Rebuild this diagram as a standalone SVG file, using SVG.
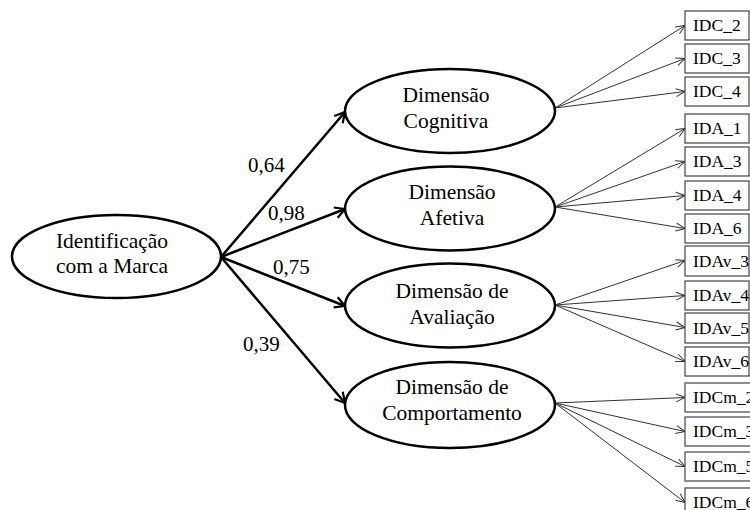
<svg xmlns="http://www.w3.org/2000/svg" width="750" height="510" viewBox="0 0 750 510">
<defs>
<marker id="hb" markerUnits="userSpaceOnUse" markerWidth="14" markerHeight="14" viewBox="0 0 14 14" refX="12" refY="7" orient="auto">
<path d="M2,1.5 L12,7 L2,12.5" fill="none" stroke="#000" stroke-width="2.2"/>
</marker>
<marker id="ht" markerUnits="userSpaceOnUse" markerWidth="12" markerHeight="12" viewBox="0 0 12 12" refX="11" refY="6" orient="auto">
<path d="M2,2 L11,6 L2,10" fill="none" stroke="#333" stroke-width="1"/>
</marker>
</defs>
<style>
.ell{fill:#fff;stroke:#000;stroke-width:2.5}
.box{fill:#fff;stroke:#444;stroke-width:1.2}
text{font-family:'Liberation Serif','Times New Roman',Times,serif;fill:#000}
.t{font-size:21.5px;text-anchor:middle}
.bt{font-size:17.5px}
.lbl{font-size:21px}
.thick{stroke:#000;stroke-width:2.5;fill:none;marker-end:url(#hb)}
.thin{stroke:#333;stroke-width:1;fill:none;marker-end:url(#ht)}
</style>
<rect width="750" height="510" fill="#fff"/>
<g id="connectors">
<line class="thick" x1="221" y1="257" x2="345" y2="112"/>
<line class="thick" x1="221" y1="257" x2="345" y2="209"/>
<line class="thick" x1="221" y1="257" x2="345" y2="306"/>
<line class="thick" x1="221" y1="257" x2="345" y2="403"/>
<line class="thin" x1="555" y1="108" x2="685" y2="25.5"/>
<line class="thin" x1="555" y1="108" x2="685" y2="58.5"/>
<line class="thin" x1="555" y1="108" x2="685" y2="91.5"/>
<line class="thin" x1="555" y1="207" x2="685" y2="128.5"/>
<line class="thin" x1="555" y1="207" x2="685" y2="161.5"/>
<line class="thin" x1="555" y1="207" x2="685" y2="195.5"/>
<line class="thin" x1="555" y1="207" x2="685" y2="228.5"/>
<line class="thin" x1="555" y1="305" x2="685" y2="260.5"/>
<line class="thin" x1="555" y1="305" x2="685" y2="295.5"/>
<line class="thin" x1="555" y1="305" x2="685" y2="327.5"/>
<line class="thin" x1="555" y1="305" x2="685" y2="361.5"/>
<line class="thin" x1="555" y1="403" x2="685" y2="397.5"/>
<line class="thin" x1="555" y1="403" x2="685" y2="431.5"/>
<line class="thin" x1="555" y1="403" x2="685" y2="466.5"/>
<line class="thin" x1="555" y1="403" x2="685" y2="502.5"/>
<text class="lbl" x="248" y="172" font-family="Liberation Serif, serif">0,64</text>
<text class="lbl" x="268" y="220" font-family="Liberation Serif, serif">0,98</text>
<text class="lbl" x="273" y="274" font-family="Liberation Serif, serif">0,75</text>
<text class="lbl" x="243" y="351" font-family="Liberation Serif, serif">0,39</text>
</g>
<g id="identificacao">
<ellipse class="ell" cx="116.5" cy="256.5" rx="104.5" ry="41.5"/>
<text class="t" x="112" y="248">Identificação</text>
<text class="t" x="112" y="273">com a Marca</text>
</g>
<g id="cognitiva">
<ellipse class="ell" cx="450" cy="111" rx="105" ry="42"/>
<text class="t" x="446" y="102">Dimensão</text>
<text class="t" x="446" y="128">Cognitiva</text>
</g>
<g id="afetiva">
<ellipse class="ell" cx="450" cy="208.5" rx="105" ry="42"/>
<text class="t" x="452" y="199">Dimensão</text>
<text class="t" x="452" y="225">Afetiva</text>
</g>
<g id="avaliacao">
<ellipse class="ell" cx="450" cy="305.5" rx="105" ry="42"/>
<text class="t" x="452" y="298">Dimensão de</text>
<text class="t" x="452" y="324">Avaliação</text>
</g>
<g id="comportamento">
<ellipse class="ell" cx="450" cy="405" rx="105" ry="43"/>
<text class="t" x="452" y="394">Dimensão de</text>
<text class="t" x="452" y="420">Comportamento</text>
</g>
<g id="IDC_2"><rect class="box" x="685" y="11" width="64" height="29"/><text class="bt" x="693" y="31">IDC_2</text></g>
<g id="IDC_3"><rect class="box" x="685" y="44" width="64" height="29"/><text class="bt" x="693" y="64">IDC_3</text></g>
<g id="IDC_4"><rect class="box" x="685" y="77" width="64" height="29"/><text class="bt" x="693" y="97">IDC_4</text></g>
<g id="IDA_1"><rect class="box" x="685" y="114" width="64" height="29"/><text class="bt" x="693" y="134">IDA_1</text></g>
<g id="IDA_3"><rect class="box" x="685" y="147" width="64" height="29"/><text class="bt" x="693" y="167">IDA_3</text></g>
<g id="IDA_4"><rect class="box" x="685" y="181" width="64" height="29"/><text class="bt" x="693" y="201">IDA_4</text></g>
<g id="IDA_6"><rect class="box" x="685" y="214" width="64" height="29"/><text class="bt" x="693" y="234">IDA_6</text></g>
<g id="IDAv_3"><rect class="box" x="685" y="246" width="64" height="30"/><text class="bt" x="693" y="267">IDAv_3</text></g>
<g id="IDAv_4"><rect class="box" x="685" y="281" width="64" height="29"/><text class="bt" x="693" y="301">IDAv_4</text></g>
<g id="IDAv_5"><rect class="box" x="685" y="313" width="64" height="30"/><text class="bt" x="693" y="334">IDAv_5</text></g>
<g id="IDAv_6"><rect class="box" x="685" y="347" width="64" height="29"/><text class="bt" x="693" y="367">IDAv_6</text></g>
<g id="IDCm_2"><rect class="box" x="685" y="383" width="80" height="29"/><text class="bt" x="693" y="403">IDCm_2</text></g>
<g id="IDCm_3"><rect class="box" x="685" y="417" width="80" height="29"/><text class="bt" x="693" y="437">IDCm_3</text></g>
<g id="IDCm_5"><rect class="box" x="685" y="452" width="80" height="29"/><text class="bt" x="693" y="472">IDCm_5</text></g>
<g id="IDCm_6"><rect class="box" x="685" y="488" width="80" height="29"/><text class="bt" x="693" y="508">IDCm_6</text></g>
</svg>
